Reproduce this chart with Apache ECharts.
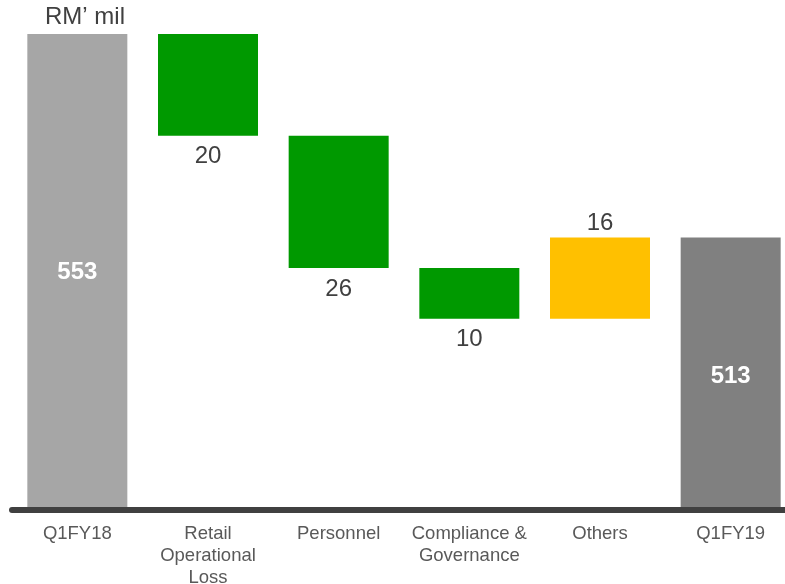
<!DOCTYPE html>
<html>
<head>
<meta charset="utf-8">
<script src="https://cdn.jsdelivr.net/npm/echarts@6/dist/echarts.min.js"></script>
<style>html,body{margin:0;padding:0;background:#fff;overflow:hidden}#c{width:785px;height:584px}</style>
</head>
<body>
<div id="c"></div>
<script>
var categories = ['Q1FY18', 'Retail\nOperational\nLoss', 'Personnel', 'Compliance &\nGovernance', 'Others', 'Q1FY19'];
var values = [553, -20, -26, -10, 16, 513];
var isTotal = [true, false, false, false, false, true];
var unitLabel = 'RM\u2019 mil';

var FONT = '"Liberation Sans", Arial, sans-serif';
var baseData = [], barData = [];
var running = 0;
for (var i = 0; i < values.length; i++) {
  var v = values[i];
  var color, label;
  if (isTotal[i]) {
    running = v;
    baseData.push(0);
    color = i === 0 ? '#a6a6a6' : '#808080';
    label = {show: true, position: 'inside', offset: [0, i === 0 ? 2 : 4], color: '#ffffff', fontWeight: 'bold', fontSize: 24, fontFamily: FONT, formatter: String(v)};
    barData.push({value: v, itemStyle: {color: color}, label: label});
  } else {
    var next = running + v;
    baseData.push(Math.min(running, next));
    color = v < 0 ? '#009900' : '#ffc000';
    label = {show: true, position: v < 0 ? 'bottom' : 'top', distance: v < 0 ? 9 : 2, color: '#404040', fontSize: 24, fontFamily: FONT, formatter: String(Math.abs(v))};
    barData.push({value: Math.abs(v), itemStyle: {color: color}, label: label});
    running = next;
  }
}

var chart = echarts.init(document.getElementById('c'), null, {renderer: 'canvas'});
chart.setOption({
  animation: false,
  backgroundColor: '#ffffff',
  grid: {left: 12, top: 34, width: 784, bottom: 77, containLabel: false, outerBoundsMode: 'none'},
  graphic: [{
    type: 'text', left: 45, top: 5,
    style: {text: unitLabel, fontSize: 24, fill: '#404040', fontFamily: FONT}
  }],
  xAxis: {
    type: 'category',
    data: categories,
    offset: 3,
    axisLine: {show: true, lineStyle: {color: '#404040', width: 6}},
    axisTick: {show: false},
    axisLabel: {interval: 0, color: '#595959', fontSize: 18.5, lineHeight: 22, margin: 13, fontFamily: FONT}
  },
  yAxis: {
    type: 'value', min: 460, max: 553, show: false,
    splitLine: {show: false}
  },
  series: [
    {type: 'bar', stack: 'w', data: baseData, itemStyle: {color: 'transparent'}, barWidth: 100, silent: true},
    {type: 'bar', stack: 'w', data: barData, barWidth: 100}
  ]
});
</script>
</body>
</html>
